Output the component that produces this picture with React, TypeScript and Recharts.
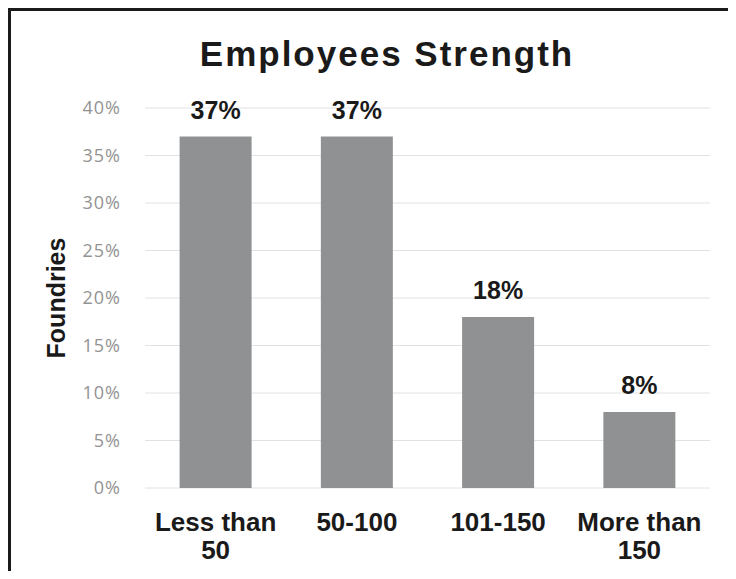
import React from 'react';
import { BarChart, Bar, XAxis, YAxis, CartesianGrid, LabelList } from 'recharts';

const categories: string[] = ['Less than 50', '50-100', '101-150', 'More than 150'];
const tickLines: string[][] = [['Less than', '50'], ['50-100'], ['101-150'], ['More than', '150']];
const foundries: number[] = [37, 37, 18, 8];
const yTicks: number[] = [0, 5, 10, 15, 20, 25, 30, 35, 40];

const data = categories.map((name, i) => ({ name, value: foundries[i], lines: tickLines[i] }));

const CategoryTick = (props: any) => {
  const { x, y, index } = props;
  const lines = tickLines[index] || [String(props.payload?.value ?? '')];
  return (
    <text
      x={x}
      y={y + 43}
      textAnchor="middle"
      fill="#1a1a1a"
      fontFamily="'Liberation Sans', Arial, sans-serif"
      fontWeight="bold"
      fontSize={26}
    >
      {lines.map((line, i) => (
        <tspan key={i} x={x} dy={i === 0 ? 0 : 28}>
          {line}
        </tspan>
      ))}
    </text>
  );
};

const AxisTitle = (props: any) => {
  const vb = props.viewBox || { x: 0, y: 0, width: 0, height: 0 };
  const cx = vb.x + 54;
  const cy = vb.y + vb.height / 2;
  return (
    <text
      x={cx}
      y={cy}
      transform={`rotate(-90, ${cx}, ${cy})`}
      textAnchor="middle"
      fill="#1a1a1a"
      fontFamily="'Liberation Sans', Arial, sans-serif"
      fontWeight="bold"
      fontSize={25}
    >
      Foundries
    </text>
  );
};

const App: React.FC = () => {
  return (
    <div
      style={{
        position: 'relative',
        width: 720,
        height: 560,
        borderTop: '3px solid #1b1b1b',
        borderLeft: '3px solid #1b1b1b',
        borderRight: '1px solid #e6e6e6',
        background: '#fff',
      }}
    >
      <div
        style={{
          position: 'absolute',
          left: 0,
          top: 26,
          width: 752,
          textAlign: 'center',
          fontFamily: "'Liberation Sans', Arial, sans-serif",
          fontWeight: 'bold',
          fontSize: 35,
          lineHeight: '34px',
          letterSpacing: 2,
          color: '#1a1a1a',
        }}
      >
        Employees Strength
      </div>
      <BarChart
        width={720}
        height={560}
        data={data}
        margin={{ top: 97, right: 21, left: 0, bottom: 0 }}
        barCategoryGap="24.5%"
      >
        <CartesianGrid vertical={false} stroke="#e2e2e2" />
        <XAxis
          dataKey="name"
          axisLine={false}
          tickLine={false}
          tickSize={0}
          tickMargin={0}
          height={83}
          interval={0}
          tick={<CategoryTick />}
        />
        <YAxis
          domain={[0, 40]}
          ticks={yTicks}
          tickFormatter={(v: number) => `${v}%`}
          axisLine={false}
          tickLine={false}
          tickSize={0}
          tickMargin={24}
          width={134}
          tick={{ fill: '#939393', fontSize: 18, letterSpacing: 1, fontFamily: "'Open Sans', sans-serif" }}
          label={{ content: (p: any) => <AxisTitle {...p} /> }}
        />
        <Bar dataKey="value" fill="#8f9193" isAnimationActive={false}>
          <LabelList
            dataKey="value"
            position="top"
            offset={18}
            formatter={(v: any) => `${v}%`}
            fill="#1a1a1a"
            fontFamily="'Liberation Sans', Arial, sans-serif"
            fontWeight="bold"
            fontSize={25}
          />
        </Bar>
      </BarChart>
    </div>
  );
};

export default App;
